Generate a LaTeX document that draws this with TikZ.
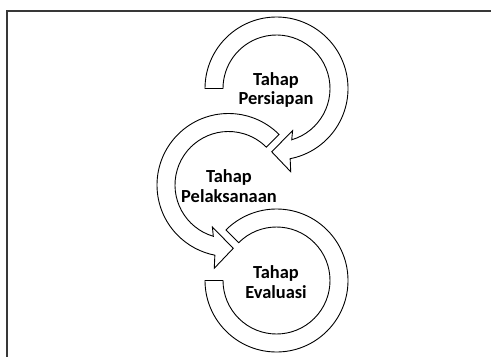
\documentclass[tikz,border=0pt]{standalone}
\usepackage{fontspec}
\setmainfont{Carlito}
\begin{document}
\begin{tikzpicture}[x=1bp,y=1bp,
  ring/.style={draw=black,fill=white,line width=0.9bp,line join=miter},
  label/.style={align=center,font=\fontsize{18.5}{20}\selectfont\bfseries,inner sep=0pt},
  frameline/.style={draw=black!78,line width=1.2bp}]
\useasboundingbox (0,0) rectangle (491,356);
\clip (0,0) rectangle (491,356);
\fill[white] (0,0) rectangle (491,356);

% outer frame
\coordinate (fc) at (7,345);
\draw[frameline] (7,-10) -- (fc) -- (510,345);

% ring centres and radii
\coordinate (c1) at (276.5,267.5);
\coordinate (c2) at (228.5,171);
\coordinate (c3) at (276.5,75.5);
\def\ro{71.5}
\def\ri{53.5}

% first arrow: clockwise from the left, head at the bottom
\begin{scope}[shift={(c1)}]
  \draw[ring] (180:\ro) arc[start angle=180,end angle=-79,radius=\ro]
    -- (-80.3:84.5) -- (-94.3:63.5) -- (-69:45) -- (-73.5:\ri)
    arc[start angle=-73.5,end angle=180,radius=\ri] -- cycle;
\end{scope}

% second arrow: counter-clockwise from the upper right, head at the bottom
\begin{scope}[shift={(c2)}]
  \draw[ring] (45:\ro) arc[start angle=45,end angle=259,radius=\ro]
    -- (260.3:84.5) -- (274.3:63.5) -- (249:45) -- (253.5:\ri)
    arc[start angle=253.5,end angle=45,radius=\ri] -- cycle;
\end{scope}

% third arc: no head, from the left round the bottom to the upper left
\begin{scope}[shift={(c3)}]
  \draw[ring] (180:\ro) arc[start angle=180,end angle=495,radius=\ro]
    -- (495:\ri)
    arc[start angle=495,end angle=180,radius=\ri] -- cycle;
\end{scope}

% stage labels
\node[label] (s1) at (276,266) {Tahap\\Persiapan};
\node[label] (s2) at (229,170) {Tahap\\Pelaksanaan};
\node[label] (s3) at (276,74) {Tahap\\Evaluasi};
\end{tikzpicture}
\end{document}
